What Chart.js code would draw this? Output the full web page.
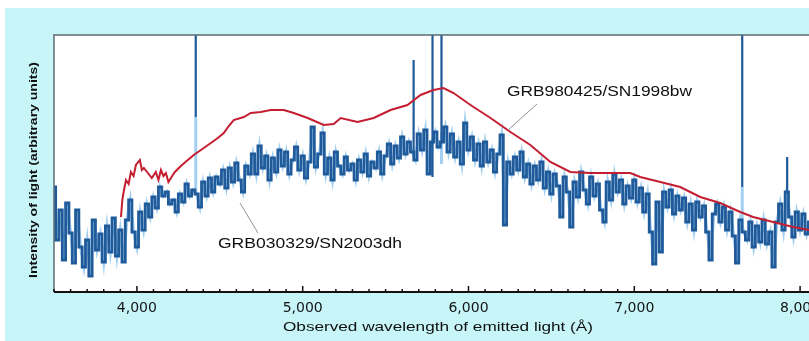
<!DOCTYPE html>
<html>
<head>
<meta charset="utf-8">
<script src="https://cdn.jsdelivr.net/npm/chart.js@4.4.1/dist/chart.umd.min.js"></script>
<style>
  html, body { margin: 0; padding: 0; overflow: hidden; background: #ffffff; }
  #wrap { width: 809px; height: 341px; overflow: hidden; }
  canvas { display: block; }
</style>
</head>
<body>
<div id="wrap"><canvas id="spectra" width="860" height="341"></canvas></div>
<script>
// GRB030329 / SN2003dh spectrum, sampled every 20 Å starting at 3500 Å (arbitrary units)
const dhStart = 3500;
const dhStep = 20;
const dhIntensity = [
  105, 52, 82, 32, 89, 59, 29, 82, 45, 25,
  52, 16, 72, 42, 58, 30, 66, 40, 74, 36,
  62, 30, 72, 92, 60, 45, 80, 62, 88, 75,
  95, 84, 105, 96, 100, 88, 92, 80, 98, 90,
  108, 96, 102, 98, 85, 110, 96, 114, 100, 115,
  108, 122, 104, 124, 110, 129, 112, 100, 126, 118,
  138, 118, 146, 124, 136, 112, 134, 120, 142, 126,
  140, 118, 132, 145, 122, 136, 114, 130, 165, 125,
  138, 159, 118, 134, 112, 140, 126, 118, 135, 122,
  128, 112, 132, 120, 138, 116, 130, 124, 140, 118,
  136, 148, 128, 146, 134, 155, 138, 150, 140, 132,
  158, 142, 162, 118, 150, 160, 145, 150, 165, 140,
  158, 135, 150, 128, 169, 142, 155, 132, 148, 126,
  150, 130, 142, 120, 138, 157, 67, 130, 118, 135,
  122, 140, 115, 128, 108, 126, 112, 130, 104, 120,
  98, 118, 106, 75, 115, 100, 65, 110, 95, 120,
  102, 88, 115, 96, 108, 82, 70, 110, 92, 118,
  100, 112, 88, 106, 94, 112, 90, 104, 80, 98,
  60, 28, 90, 40, 100, 85, 102, 78, 96, 82,
  94, 70, 88, 62, 90, 75, 86, 60, 32, 78,
  88, 70, 85, 62, 80, 56, 29, 72, 60, 52,
  70, 45, 66, 50, 72, 48, 60, 25, 70, 88,
  62, 100, 75, 55, 80, 62, 78, 58, 70
];

// GRB980425 / SN1998bw comparison spectrum
const bwWavelength = [
  3904, 3912, 3920, 3934, 3950, 3964, 3980, 3994, 4018, 4030,
  4042, 4066, 4090, 4114, 4130, 4145, 4160, 4175, 4190, 4205,
  4229, 4265, 4307, 4343, 4386, 4446, 4488, 4524, 4554, 4584,
  4645, 4687, 4747, 4807, 4886, 4946, 5030, 5127, 5187, 5229,
  5331, 5428, 5530, 5632, 5711, 5789, 5849, 5910, 6012, 6133,
  6253, 6373, 6494, 6614, 6735, 6855, 6976, 7036, 7157, 7277,
  7398, 7518, 7639, 7717, 7837, 7958, 8054, 8180
];
const bwIntensity = [
  75, 92, 100, 112, 108, 120, 116, 127, 132, 122,
  124, 119, 114, 120, 112, 122, 116, 119, 110, 114,
  120, 126, 132, 137, 142, 149, 154, 159, 166, 172,
  175, 179, 180, 182, 182, 179, 174, 167, 168, 174,
  170, 174, 182, 187, 197, 202, 204, 199, 187, 174,
  160, 147, 130, 120, 119, 119, 119, 115, 110, 105,
  95, 89, 80, 75, 70, 65, 62, 59
];

// narrow lines on the SN2003dh spectrum (strong core and faint lower part)
const lineWavelength = [4355, 5669, 5783, 5837, 7651, 7922];
const lineLow = [175, 140, 115, 150, 105, 100];
const lineHigh = [300, 232, 300, 300, 300, 135];
const faintWavelength = [4355, 5837, 7651];
const faintLow = [98, 128, 62];
const faintHigh = [175, 160, 105];

// x axis: minor ticks every 100 Å, labelled every 1000 Å
const xMin = 3500;
const xMax = 8301;
const minorStep = 100;
const majorTicks = [4000, 5000, 6000, 7000, 8000];
const majorTickLabels = ['4,000', '5,000', '6,000', '7,000', '8,000'];

const dhPoints = dhIntensity.map((v, i) => ({ x: dhStart + i * dhStep, y: v }));
const bwPoints = bwWavelength.map((w, i) => ({ x: w, y: bwIntensity[i] }));
function segments(xs, lows, highs) {
  const pts = [];
  xs.forEach((w, i) => {
    pts.push({ x: w, y: lows[i] }, { x: w, y: highs[i] }, { x: w, y: null });
  });
  return pts;
}
const tickValues = [];
for (let v = Math.ceil(xMin / minorStep) * minorStep; v <= xMax; v += minorStep) tickValues.push(v);

const DARK_BLUE = '#1f5a9a';
const LIGHT_BLUE = 'rgba(140, 196, 236, 0.8)';
const RED = '#c41e30';

function stretchedText(ctx, text, x, y, width, font, angle) {
  ctx.save();
  ctx.font = font;
  const w = ctx.measureText(text).width;
  ctx.translate(x, y);
  if (angle) ctx.rotate(angle);
  ctx.scale(width / w, 1);
  ctx.textAlign = 'left';
  ctx.textBaseline = 'middle';
  ctx.fillStyle = '#101010';
  ctx.fillText(text, 0, 0);
  ctx.restore();
}

const decor = {
  id: 'decor',
  beforeDraw(chart) {
    const { ctx, chartArea: a, width, height } = chart;
    ctx.save();
    ctx.fillStyle = '#ffffff';
    ctx.fillRect(0, 0, width, height);
    ctx.fillStyle = '#c8f6f8';
    ctx.fillRect(5, 8, width - 5, height - 8);
    ctx.fillStyle = '#ffffff';
    ctx.fillRect(a.left, a.top, a.right - a.left, a.bottom - a.top);
    ctx.restore();
  },
  afterDatasetsDraw(chart) {
    const { ctx, chartArea: a } = chart;
    const xs = chart.scales.x;
    ctx.save();
    // frame
    ctx.strokeStyle = '#5d6b72';
    ctx.lineWidth = 1.5;
    ctx.beginPath();
    ctx.moveTo(a.left, a.bottom);
    ctx.lineTo(a.left, a.top);
    ctx.lineTo(a.right, a.top);
    ctx.stroke();
    // bottom axis
    ctx.strokeStyle = '#111111';
    ctx.lineWidth = 2;
    ctx.beginPath();
    ctx.moveTo(a.left, a.bottom);
    ctx.lineTo(a.right, a.bottom);
    ctx.stroke();
    // inward tick marks
    ctx.lineWidth = 1.5;
    xs.ticks.forEach(t => {
      const px = xs.getPixelForValue(t.value);
      const len = majorTicks.includes(t.value) ? 6 : 3;
      ctx.beginPath();
      ctx.moveTo(px, a.bottom);
      ctx.lineTo(px, a.bottom - len);
      ctx.stroke();
    });
    ctx.restore();
  },
  afterDraw(chart) {
    const { ctx } = chart;
    ctx.save();
    // leader lines
    ctx.strokeStyle = '#8c9598';
    ctx.lineWidth = 1;
    ctx.beginPath();
    ctx.moveTo(537, 104); ctx.lineTo(508, 130);
    ctx.moveTo(240, 203); ctx.lineTo(258, 233);
    ctx.stroke();
    ctx.restore();
    stretchedText(ctx, 'GRB980425/SN1998bw', 507, 92, 185, '14px "Liberation Sans"');
    stretchedText(ctx, 'GRB030329/SN2003dh', 218, 244, 184, '14px "Liberation Sans"');
    stretchedText(ctx, 'Observed wavelength of emitted light (Å)', 283, 327, 310, '13px "Liberation Sans"');
    stretchedText(ctx, 'Intensity of light (arbitrary units)', 34, 278, 216, 'bold 11px "Liberation Sans"', -Math.PI / 2);
  }
};

new Chart(document.getElementById('spectra'), {
  type: 'line',
  data: {
    datasets: [
      { label: 'GRB980425/SN1998bw', data: bwPoints, borderColor: RED, borderWidth: 2 },
      { label: 'lines', data: segments(lineWavelength, lineLow, lineHigh), borderColor: DARK_BLUE, borderWidth: 2.2, spanGaps: false },
      { label: 'GRB030329/SN2003dh', data: dhPoints, borderColor: DARK_BLUE, borderWidth: 2.8, stepped: 'middle' },
      { label: 'GRB030329/SN2003dh halo', data: dhPoints, borderColor: LIGHT_BLUE, borderWidth: 3 },
      { label: 'faint lines', data: segments(faintWavelength, faintLow, faintHigh), borderColor: LIGHT_BLUE, borderWidth: 3, spanGaps: false }
    ]
  },
  options: {
    responsive: false,
    animation: false,
    devicePixelRatio: 1,
    layout: { padding: { left: 54, top: 35, right: 10, bottom: 0 } },
    elements: { point: { radius: 0 }, line: { tension: 0, borderJoinStyle: 'miter' } },
    plugins: { legend: { display: false }, tooltip: { enabled: false } },
    scales: {
      x: {
        type: 'linear',
        min: xMin,
        max: xMax,
        grid: { display: false, drawTicks: false },
        border: { display: false },
        afterBuildTicks: s => { s.ticks = tickValues.map(v => ({ value: v })); },
        ticks: {
          autoSkip: false,
          maxRotation: 0,
          minRotation: 0,
          padding: 8,
          color: '#141414',
          font: { family: 'DejaVu Sans', size: 14 },
          callback: v => {
            const i = majorTicks.indexOf(v);
            return i >= 0 ? majorTickLabels[i] : '';
          }
        },
        afterFit: s => { s.height = 49; }
      },
      y: { display: false, min: 0, max: 257 }
    }
  },
  plugins: [decor]
});
</script>
</body>
</html>
